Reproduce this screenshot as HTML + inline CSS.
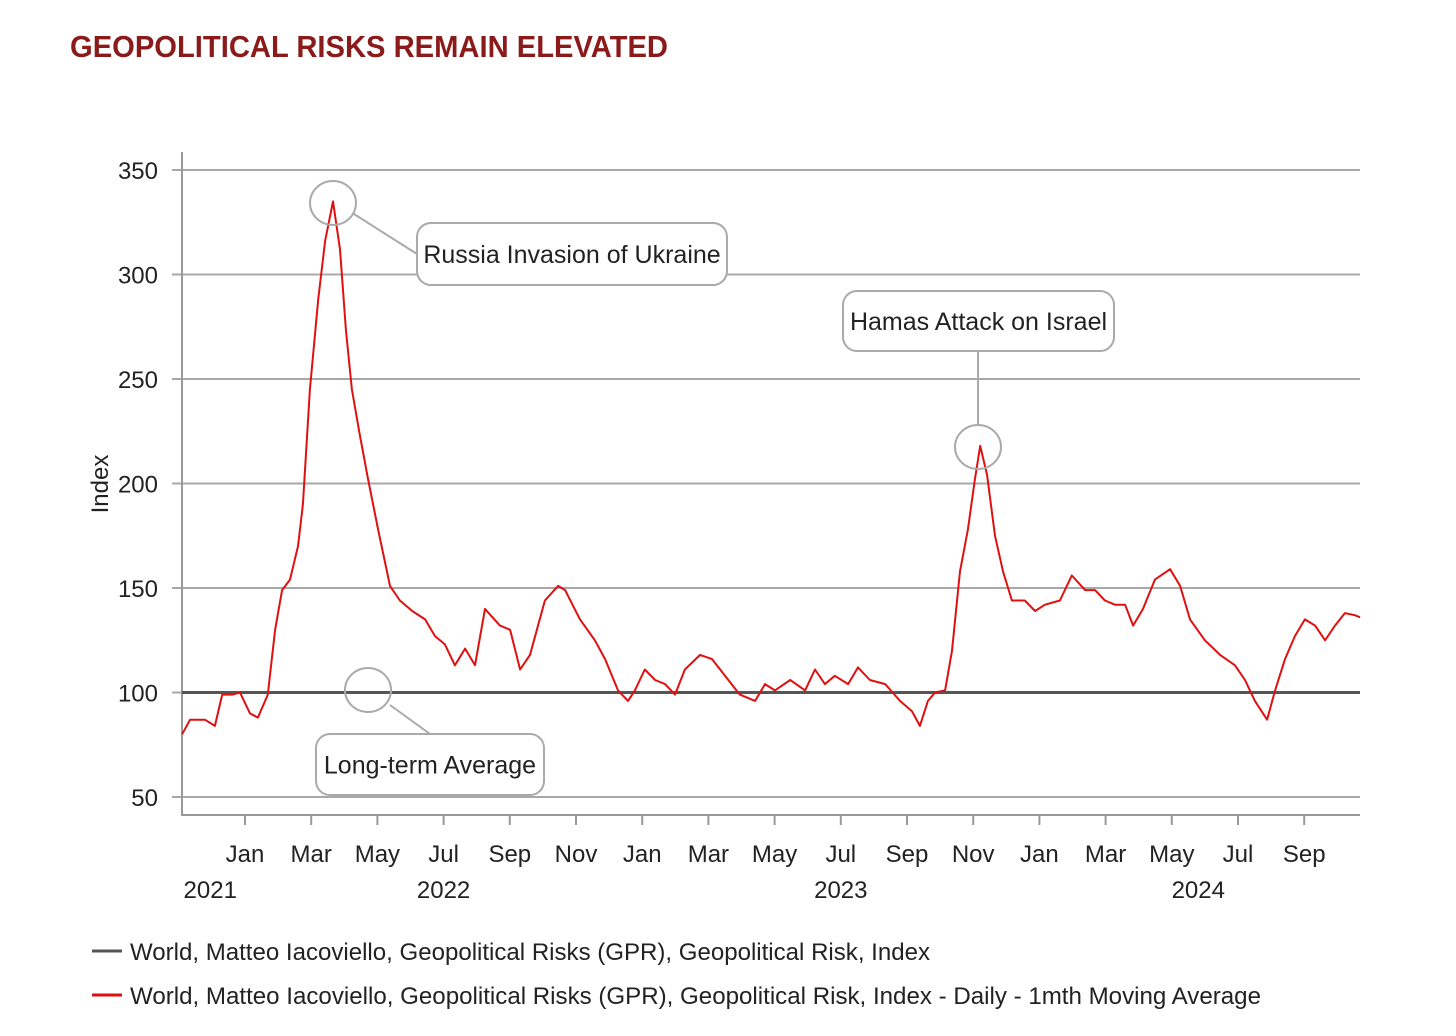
<!DOCTYPE html>
<html><head><meta charset="utf-8"><style>
html,body{margin:0;padding:0;background:#fff;}
svg{display:block;font-family:"Liberation Sans Narrow","Liberation Sans",sans-serif;}
</style></head><body>
<svg id="chart" width="1456" height="1036" viewBox="0 0 1456 1036">
<text x="70" y="57" font-family="Liberation Sans, sans-serif" font-weight="bold" font-size="31" fill="#8b1a1a" textLength="598" lengthAdjust="spacingAndGlyphs">GEOPOLITICAL RISKS REMAIN ELEVATED</text>
<g id="grid"></g>
<g id="axes"></g>
<g id="series"></g>
<g id="annotations"></g>
<g id="legend"></g>
</svg>
<script>
// months since Jan 2022
const months = [-1.90,-1.66,-1.21,-0.91,-0.69,-0.39,-0.15,0.15,0.39,0.69,0.91,1.12,1.36,1.60,1.75,1.96,2.21,2.42,2.66,2.87,3.05,3.23,3.47,3.72,4.02,4.38,4.68,5.05,5.44,5.74,6.04,6.34,6.65,6.95,7.25,7.70,8.01,8.31,8.61,9.06,9.46,9.67,10.12,10.57,10.88,11.27,11.57,11.78,12.08,12.39,12.69,12.99,13.29,13.75,14.11,14.50,14.95,15.41,15.71,16.01,16.47,16.92,17.22,17.52,17.82,18.22,18.52,18.88,19.34,19.79,20.15,20.39,20.63,20.85,21.15,21.36,21.60,21.84,22.05,22.21,22.42,22.66,22.90,23.17,23.56,23.87,24.17,24.62,24.98,25.38,25.68,25.98,26.28,26.59,26.83,27.13,27.49,27.95,28.25,28.55,29.00,29.46,29.91,30.21,30.51,30.88,31.12,31.42,31.72,32.02,32.33,32.63,32.93,33.23,33.53,33.69];
const values = [80,87,87,84,99,99,100,90,88,99,130,149,154,170,190,245,288,316,335,312,273,245,223,202,178,151,144,139,135,127,123,113,121,113,140,132,130,111,118,144,151,149,135,125,116,101,96,101,111,106,104,99,111,118,116,108,99,96,104,101,106,101,111,104,108,104,112,106,104,96,91,84,96,100,101,120,158,178,202,218,204,175,158,144,144,139,142,144,156,149,149,144,142,142,132,140,154,159,151,135,125,118,113,106,96,87,101,116,127,135,132,125,132,138,137,136];
const yTicks = [50,100,150,200,250,300,350];
const monthTicks = [0,2,4,6,8,10,12,14,16,18,20,22,24,26,28,30,32];
const monthLabels = ["Jan","Mar","May","Jul","Sep","Nov","Jan","Mar","May","Jul","Sep","Nov","Jan","Mar","May","Jul","Sep"];
const yearLabels = ["2021","2022","2023","2024"];
const yearPos = [-1.05,6,18,28.8];
const average = 100;

const NS="http://www.w3.org/2000/svg";
const X0=182,X1=1360;
const xs=m=>245+m*33.1;
const ys=v=>692.5-(v-100)*2.09;
function mk(tag,attrs,parent,txt){const e=document.createElementNS(NS,tag);for(const k in attrs)e.setAttribute(k,attrs[k]);if(txt!==undefined)e.textContent=txt;document.getElementById(parent).appendChild(e);return e;}

yTicks.forEach(v=>{
  const l=mk('line',{x1:172,x2:X1,y1:ys(v),y2:ys(v),stroke:'#a8a8a8','stroke-width':2},'grid');
  
  
  const t=mk('text',{x:158,y:ys(v)+9,'text-anchor':'end','font-size':24,fill:'#222'},'axes',String(v));
  
  
});
let a=mk('line',{x1:X0,x2:X0,y1:152,y2:816,stroke:'#999','stroke-width':2},'axes');


a=mk('line',{x1:X0,x2:X1,y1:815,y2:815,stroke:'#999','stroke-width':2},'axes');


let yt=mk('text',{x:108,y:484,'text-anchor':'middle','font-size':24,fill:'#222',transform:'rotate(-90 108 484)'},'axes','Index');


monthTicks.forEach((m,i)=>{
  const tk=mk('line',{x1:xs(m),x2:xs(m),y1:815,y2:825,stroke:'#999','stroke-width':2},'axes');
  
  
  const t=mk('text',{x:xs(m),y:862,'text-anchor':'middle','font-size':24,fill:'#222'},'axes',monthLabels[i]);
  
  
});
yearLabels.forEach((y,i)=>{
  const t=mk('text',{x:xs(yearPos[i]),y:898,'text-anchor':'middle','font-size':24,fill:'#222'},'axes',y);
  
  
});
let avg=mk('line',{x1:X0,x2:X1,y1:ys(average),y2:ys(average),stroke:'#555','stroke-width':3},'series');


let d=months.map((m,i)=>(i?'L':'M')+xs(m).toFixed(1)+' '+ys(values[i]).toFixed(1)).join(' ');
let p=mk('path',{d:d,fill:'none',stroke:'#e01010','stroke-width':2,'stroke-linejoin':'round'},'series');



function callout(name,cx,cy,lx1,ly1,lx2,ly2,bx,by,bw,bh,label){
  const c=mk('ellipse',{cx:cx,cy:cy,rx:23,ry:22,fill:'none',stroke:'#aaa','stroke-width':2},'annotations');
  
  
  const l=mk('line',{x1:lx1,y1:ly1,x2:lx2,y2:ly2,stroke:'#aaa','stroke-width':2},'annotations');
  
  
  const r=mk('rect',{x:bx,y:by,width:bw,height:bh,rx:14,fill:'#fff',stroke:'#aaa','stroke-width':2},'annotations');
  
  
  const t=mk('text',{x:bx+bw/2,y:by+bh/2+9,'text-anchor':'middle','font-size':25,fill:'#222'},'annotations',label);
  
  
}
callout('ukraine-annotation',333,203,354,214,417,254,417,223,310,62,'Russia Invasion of Ukraine');
callout('hamas-annotation',978,447,978,351,978,424,843,291,271,60,'Hamas Attack on Israel');
callout('average-annotation',368,690,390,705,430,734,316,734,228,61,'Long-term Average');

function legend(name,y,color,label,len){
  const l=mk('line',{x1:92,x2:122,y1:y,y2:y,stroke:color,'stroke-width':3},'legend');
  
  
  const t=mk('text',{x:130,y:y+9,'font-size':24,fill:'#222',textLength:len,lengthAdjust:'spacingAndGlyphs'},'legend',label);
  
  
}
legend('legend-entry-index',951,'#555','World, Matteo Iacoviello, Geopolitical Risks (GPR), Geopolitical Risk, Index',800);
legend('legend-entry-moving-average',995,'#e01010','World, Matteo Iacoviello, Geopolitical Risks (GPR), Geopolitical Risk, Index - Daily - 1mth Moving Average',1131);
</script>
</body></html>
